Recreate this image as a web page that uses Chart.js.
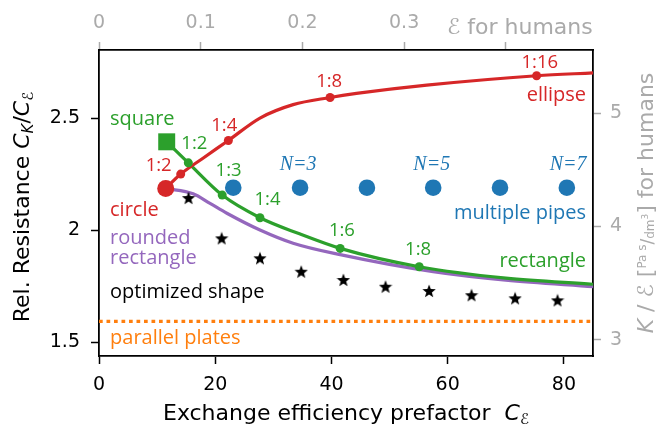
<!DOCTYPE html>
<html>
<head>
<meta charset="utf-8">
<script src="https://cdn.jsdelivr.net/npm/chart.js@4.4.1/dist/chart.umd.min.js"></script>
<style>
  html, body { margin: 0; padding: 0; background: #fff; }
  canvas { display: block; }
</style>
</head>
<body>
<canvas id="chart" width="660" height="425"></canvas>
<script>
// values
const ellipseLineX = [11.48, 14.06, 17.95, 22.26, 27.7, 33.4, 39.76, 44.3, 56.4, 75.3, 85];
const ellipseLineY = [2.186, 2.25, 2.322, 2.40, 2.50, 2.56, 2.592, 2.61, 2.647, 2.689, 2.702];
const ellipseDotX = [14.06, 22.26, 39.76, 75.3];
const ellipseDotY = [2.25, 2.40, 2.592, 2.689];

const rectLineX = [11.65, 15.37, 21.2, 27.7, 34.5, 41.5, 55.1, 70, 85];
const rectLineY = [2.394, 2.30, 2.156, 2.055, 1.983, 1.918, 1.836, 1.785, 1.758];
const rectDotX = [15.37, 21.2, 27.7, 41.5, 55.1];
const rectDotY = [2.30, 2.156, 2.055, 1.918, 1.836];

const roundLineX = [11.48, 16.2, 19.1, 22.0, 27.7, 33.4, 41.5, 57.5, 70, 85];
const roundLineY = [2.186, 2.162, 2.119, 2.075, 2.0, 1.941, 1.89, 1.814, 1.776, 1.747];

const circleX = [11.48];
const circleY = [2.186];
const squareX = [11.65];
const squareY = [2.394];

const pipesX = [23.1, 34.6, 46.1, 57.5, 69.0, 80.5];
const pipesY = [2.189, 2.189, 2.189, 2.189, 2.189, 2.189];

const starsX = [15.4, 21.1, 27.7, 34.8, 42.05, 49.3, 56.8, 64.1, 71.6, 78.9];
const starsY = [2.143, 1.963, 1.874, 1.814, 1.777, 1.747, 1.728, 1.709, 1.695, 1.686];

const platesX = [0, 85];
const platesY = [1.592, 1.592];

const xTicks = [0, 20, 40, 60, 80];
const yTicks = [1.5, 2, 2.5];
const topTicks = [0, 0.1, 0.2, 0.3, 0.4];
const rightTicks = [3, 4, 5];

const RED = '#d62728', GREEN = '#2ca02c', PURPLE = '#9467bd',
      ORANGE = '#ff7f0e', BLUE = '#1f77b4', GRAY = '#aaaaaa';
const SANS = '"Open Sans", sans-serif';
const AXF = '"DejaVu Sans", sans-serif';

const pts = (xs, ys) => xs.map((x, i) => ({ x: x, y: ys[i] }));

function starImage(size) {
  const c = document.createElement('canvas');
  c.width = c.height = size;
  const g = c.getContext('2d');
  const R = size / 2, r = R * 0.42;
  g.beginPath();
  for (let i = 0; i < 10; i++) {
    const a = -Math.PI / 2 + i * Math.PI / 5;
    const rr = i % 2 ? r : R;
    g.lineTo(R + rr * Math.cos(a), R + 0.5 + rr * Math.sin(a));
  }
  g.closePath();
  g.fillStyle = '#000';
  g.fill();
  return c;
}

// text labels inside the plot, placed in data coordinates
const notes = [
  { t: 'square', x: 1.9, y: 2.494, c: GREEN, a: 'left' },
  { t: '1:2', x: 16.4, y: 2.384, c: GREEN, a: 'center', s: 18.5 },
  { t: '1:3', x: 22.3, y: 2.263, c: GREEN, a: 'center', s: 18.5 },
  { t: '1:4', x: 29.0, y: 2.134, c: GREEN, a: 'center', s: 18.5 },
  { t: '1:6', x: 41.8, y: 1.996, c: GREEN, a: 'center', s: 18.5 },
  { t: '1:8', x: 54.9, y: 1.914, c: GREEN, a: 'center', s: 18.5 },
  { t: 'rectangle', x: 83.8, y: 1.859, c: GREEN, a: 'right' },
  { t: '1:2', x: 10.27, y: 2.287, c: RED, a: 'center', s: 18.5 },
  { t: 'circle', x: 1.9, y: 2.089, c: RED, a: 'left' },
  { t: '1:4', x: 21.55, y: 2.467, c: RED, a: 'center', s: 18.5 },
  { t: '1:8', x: 39.6, y: 2.662, c: RED, a: 'center', s: 18.5 },
  { t: '1:16', x: 75.85, y: 2.749, c: RED, a: 'center', s: 18.5 },
  { t: 'ellipse', x: 83.8, y: 2.603, c: RED, a: 'right' },
  { t: 'N=3', x: 34.25, y: 2.29, c: BLUE, a: 'center', serif: true },
  { t: 'N=5', x: 57.26, y: 2.29, c: BLUE, a: 'center', serif: true },
  { t: 'N=7', x: 83.9, y: 2.29, c: BLUE, a: 'right', serif: true },
  { t: 'multiple pipes', x: 83.8, y: 2.075, c: BLUE, a: 'right' },
  { t: 'rounded', x: 1.9, y: 1.961, c: PURPLE, a: 'left' },
  { t: 'rectangle', x: 1.9, y: 1.872, c: PURPLE, a: 'left' },
  { t: 'optimized shape', x: 1.9, y: 1.723, c: '#000', a: 'left' },
  { t: 'parallel plates', x: 1.9, y: 1.515, c: ORANGE, a: 'left' }
];

function drawRuns(ctx, runs, x, y, align, angle) {
  ctx.save();
  ctx.translate(x, y);
  if (angle) ctx.rotate(angle);
  let total = 0;
  runs.forEach(r => { ctx.font = r.font; r.w = ctx.measureText(r.text).width; total += r.w; });
  let cx = align === 'center' ? -total / 2 : align === 'right' ? -total : 0;
  ctx.textAlign = 'left';
  ctx.textBaseline = 'alphabetic';
  runs.forEach(r => {
    ctx.font = r.font;
    ctx.fillStyle = r.color;
    ctx.fillText(r.text, cx, r.dy || 0);
    cx += r.w;
  });
  ctx.restore();
}

const textPlugin = {
  id: 'texts',
  afterDraw(chart) {
    const ctx = chart.ctx;
    const xs = chart.scales.x, ys = chart.scales.y;
    ctx.save();
    notes.forEach(n => {
      ctx.font = n.serif ? 'italic 20px "Liberation Serif", serif' : (n.s || 20) + 'px ' + SANS;
      ctx.fillStyle = n.c;
      ctx.textAlign = n.a;
      ctx.textBaseline = 'middle';
      ctx.fillText(n.t, xs.getPixelForValue(n.x), ys.getPixelForValue(n.y));
    });
    ctx.restore();

    const big = '22px ' + AXF, it = 'italic 22px ' + AXF, sub = 'italic 15px ' + AXF;
    const area = chart.chartArea;
    drawRuns(ctx, [
      { text: 'Exchange efficiency prefactor  ', font: big, color: '#000' },
      { text: 'C', font: it, color: '#000' },
      { text: 'ℰ', font: '15px ' + AXF, color: '#000', dy: 4 }
    ], (area.left + area.right) / 2, 420, 'center');

    drawRuns(ctx, [
      { text: 'Rel. Resistance ', font: big, color: '#000' },
      { text: 'C', font: it, color: '#000' },
      { text: 'K', font: sub, color: '#000', dy: 4 },
      { text: '/', font: big, color: '#000' },
      { text: 'C', font: it, color: '#000' },
      { text: 'ℰ', font: '15px ' + AXF, color: '#000', dy: 4 }
    ], 29, (area.top + area.bottom) / 2 + 4, 'center', -Math.PI / 2);

    drawRuns(ctx, [
      { text: 'ℰ', font: big, color: GRAY },
      { text: ' for humans', font: big, color: GRAY }
    ], 447, 34, 'left');

    drawRuns(ctx, [
      { text: 'K', font: it, color: GRAY },
      { text: ' / ', font: big, color: GRAY },
      { text: 'ℰ', font: big, color: GRAY },
      { text: ' [', font: big, color: GRAY },
      { text: 'Pa s', font: '12px ' + AXF, color: GRAY, dy: -7 },
      { text: '/', font: '17px ' + AXF, color: GRAY },
      { text: 'dm', font: '12px ' + AXF, color: GRAY, dy: 1 },
      { text: '3', font: '9px ' + AXF, color: GRAY, dy: -5 },
      { text: ']', font: big, color: GRAY },
      { text: ' for humans', font: big, color: GRAY }
    ], 653, (area.top + area.bottom) / 2, 'center', -Math.PI / 2);
  }
};

const tickFont = { family: AXF, size: 19 };
const fixedTicks = list => scale => { scale.ticks = list.map(v => ({ value: v })); };

new Chart(document.getElementById('chart'), {
  type: 'scatter',
  data: {
    datasets: [
      { data: pts(circleX, circleY), backgroundColor: RED, borderWidth: 0, pointRadius: 8.5, order: 0 },
      { data: pts(squareX, squareY), backgroundColor: GREEN, borderWidth: 0, pointStyle: 'rect', pointRadius: 12, order: 0 },
      { data: pts(pipesX, pipesY), backgroundColor: BLUE, borderWidth: 0, pointRadius: 8.3, order: 1 },
      { data: pts(starsX, starsY), pointStyle: starImage(14), order: 1 },
      { data: pts(ellipseDotX, ellipseDotY), backgroundColor: RED, borderWidth: 0, pointRadius: 4.5, order: 2 },
      { data: pts(rectDotX, rectDotY), backgroundColor: GREEN, borderWidth: 0, pointRadius: 4.5, order: 2 },
      { data: pts(ellipseLineX, ellipseLineY), showLine: true, borderColor: RED, borderWidth: 3.2,
        pointRadius: 0, cubicInterpolationMode: 'monotone', order: 3 },
      { data: pts(rectLineX, rectLineY), showLine: true, borderColor: GREEN, borderWidth: 3.2,
        pointRadius: 0, cubicInterpolationMode: 'monotone', order: 4 },
      { data: pts(roundLineX, roundLineY), showLine: true, borderColor: PURPLE, borderWidth: 3.2,
        pointRadius: 0, cubicInterpolationMode: 'monotone', order: 5 },
      { data: pts(platesX, platesY), showLine: true, borderColor: ORANGE, borderWidth: 3.2,
        borderDash: [3.7, 3.8], borderCapStyle: 'butt', pointRadius: 0, order: 6 }
    ]
  },
  options: {
    responsive: false,
    animation: false,
    devicePixelRatio: 1,
    layout: { padding: 0 },
    plugins: { legend: { display: false }, tooltip: { enabled: false } },
    scales: {
      x: {
        type: 'linear', position: 'bottom', min: 0, max: 85,
        afterBuildTicks: fixedTicks(xTicks),
        afterFit: s => { s.height = 69; },
        ticks: { color: '#000', font: tickFont, padding: 10, maxRotation: 0 },
        grid: { drawOnChartArea: false, tickLength: 8, tickColor: '#000', tickWidth: 1.5 },
        border: { color: '#000', width: 1.8 }
      },
      x2: {
        type: 'linear', position: 'top', min: 0, max: 85 / 175,
        afterBuildTicks: fixedTicks(topTicks),
        afterFit: s => { s.height = 50; },
        ticks: { color: GRAY, font: tickFont, padding: 8, maxRotation: 0,
          callback: v => Math.abs(v - 0.4) < 1e-9 ? '' : String(Math.round(v * 10) / 10) },
        grid: { drawOnChartArea: false, tickLength: 8, tickColor: GRAY, tickWidth: 1.5 },
        border: { color: '#000', width: 1.8 }
      },
      y: {
        type: 'linear', position: 'left', min: 1.4375, max: 2.804,
        afterBuildTicks: fixedTicks(yTicks),
        afterFit: s => { s.width = 99; },
        ticks: { color: '#000', font: tickFont, padding: 11, callback: v => String(v) },
        grid: { drawOnChartArea: false, tickLength: 8, tickColor: '#000', tickWidth: 1.5 },
        border: { color: '#000', width: 1.8 }
      },
      y2: {
        type: 'linear', position: 'right', min: 2.857, max: 5.559,
        afterBuildTicks: fixedTicks(rightTicks),
        afterFit: s => { s.width = 67; },
        ticks: { color: GRAY, font: tickFont, padding: 9, callback: v => String(v) },
        grid: { drawOnChartArea: false, tickLength: 8, tickColor: GRAY, tickWidth: 1.5 },
        border: { color: '#000', width: 1.8 }
      }
    }
  },
  plugins: [textPlugin]
});
</script>
</body>
</html>
